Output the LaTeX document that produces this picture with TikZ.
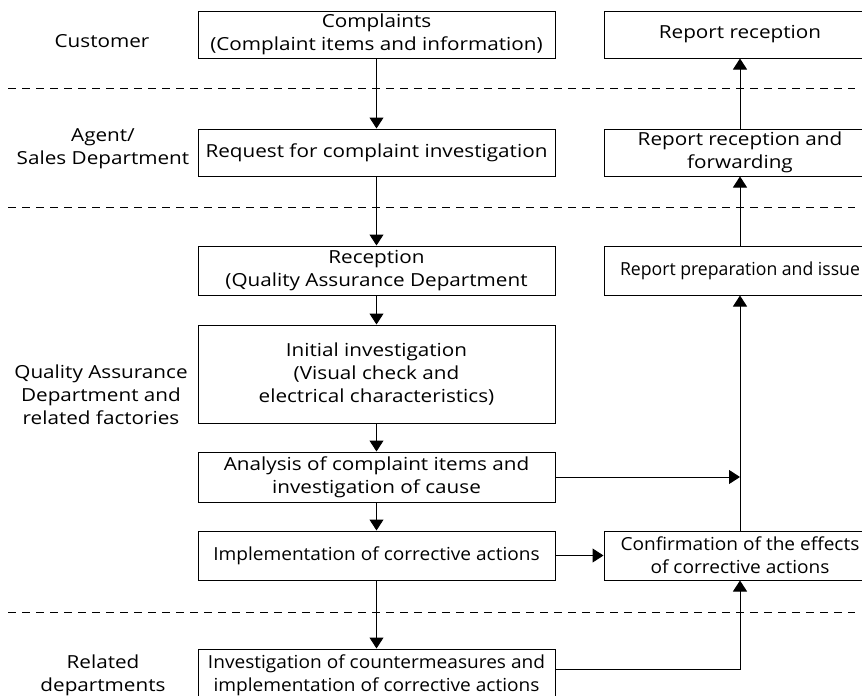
\documentclass[tikz,border=0pt]{standalone}
\usepackage{fontspec}
\setmainfont[FakeStretch=1.15]{Open Sans}
\newfontfamily\tightfont[FakeStretch=1.06]{Open Sans}
\newfontfamily\narrowfont[FakeStretch=0.98]{Open Sans}
\usetikzlibrary{arrows.meta}

\begin{document}
\begin{tikzpicture}[x=1pt,y=-1pt]
	\tikzset{every node/.style={font=\fontsize{18pt}{23pt}\selectfont,align=center,inner sep=0pt}}
	\tikzset{stage/.style={draw,line width=1pt,minimum width=357pt,minimum height=47pt}}
	\tikzset{report/.style={stage,minimum width=272pt}}
	\tikzset{tight/.style={font=\fontsize{18pt}{23pt}\selectfont\tightfont}}
	\tikzset{narrow/.style={font=\fontsize{18pt}{23pt}\selectfont\narrowfont}}
	\tikzset{flow/.style={line width=1pt,-{Triangle[width=14pt,length=11pt]}}}
	\tikzset{lane/.style={line width=1pt,dash pattern=on 8pt off 6pt}}
	\useasboundingbox (0,0) rectangle (862,696);
	\foreach \y in {88,207,612} \draw[lane] (8,\y) -- (855,\y);
	\node (customer) at (102,41) {Customer};
	\node (agent) at (103,149) {Agent/\\Sales Department};
	\node (qa) at (101,395) {Quality Assurance\\Department and\\related factories};
	\node (related) at (103,675) {Related\\departments};
	\node[stage] (complaints) at (376.5,34.5) {Complaints\\(Complaint items and information)};
	\node[stage] (request) at (376.5,152.5) {Request for complaint investigation};
	\node[stage,minimum height=49pt] (reception) at (376.5,270.5) {Reception\\(Quality Assurance Department};
	\node[stage,minimum height=98pt] (initial) at (376.5,374) {Initial investigation\\(Visual check and\\electrical characteristics)};
	\node[stage,minimum height=50pt] (analysis) at (376.5,477) {Analysis of complaint items and\\investigation of cause};
	\node[stage,tight,minimum height=49pt] (implement) at (376.5,555.5) {Implementation of corrective actions};
	\node[stage,tight,minimum height=52pt] (counter) at (376.5,675) {Investigation of countermeasures and\\implementation of corrective actions};
	\node[report] (received) at (740,34.5) {Report reception};
	\node[report] (forward) at (740,152.5) {Report reception and\\forwarding};
	\node[report,narrow,minimum height=49pt] (issue) at (740,270.5) {Report preparation and issue};
	\node[report,tight,minimum height=49pt] (confirm) at (740,555.5) {Confirmation of the effects\\of corrective actions};
	\draw[flow] (complaints) -- (request);
	\draw[flow] (request) -- (reception);
	\draw[flow] (reception) -- (initial);
	\draw[flow] (initial) -- (analysis);
	\draw[flow] (analysis) -- (implement);
	\draw[flow] (implement) -- (counter);
	\draw[flow] (analysis.east) -- (analysis.east -| issue.south);
	\draw[flow] (implement) -- (confirm);
	\draw[flow] ([yshift=6pt]counter.east) -| (confirm.south);
	\draw[flow] (confirm) -- (issue);
	\draw[flow] (issue) -- (forward);
	\draw[flow] (forward) -- (received);
\end{tikzpicture}
\end{document}
